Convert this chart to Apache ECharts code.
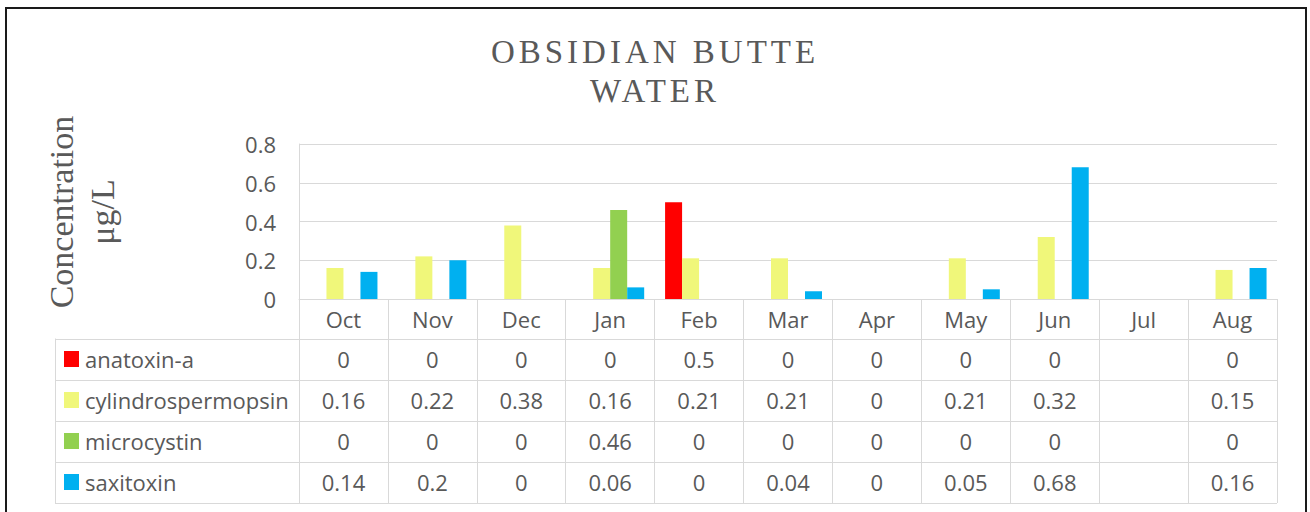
<!DOCTYPE html>
<html lang="en">
<head>
    <meta charset="UTF-8">
    <title>Obsidian Butte Water</title>
    <script src="https://cdn.jsdelivr.net/npm/echarts/dist/echarts.min.js"></script>
    <style>
        body { margin: 0; background: #fff; }
        #chart { width: 1310px; height: 512px; }
    </style>
</head>
<body>
<div id="chart"></div>
<script>
    // 数据：月份 + 四种毒素浓度（Jul 无数据）
    const months = ['Oct', 'Nov', 'Dec', 'Jan', 'Feb', 'Mar', 'Apr', 'May', 'Jun', 'Jul', 'Aug'];
    const anatoxin = [0, 0, 0, 0, 0.5, 0, 0, 0, 0, null, 0];
    const cylindrospermopsin = [0.16, 0.22, 0.38, 0.16, 0.21, 0.21, 0, 0.21, 0.32, null, 0.15];
    const microcystin = [0, 0, 0, 0.46, 0, 0, 0, 0, 0, null, 0];
    const saxitoxin = [0.14, 0.2, 0, 0.06, 0, 0.04, 0, 0.05, 0.68, null, 0.16];
    const seriesNames = ['anatoxin-a', 'cylindrospermopsin', 'microcystin', 'saxitoxin'];
    const seriesData = [anatoxin, cylindrospermopsin, microcystin, saxitoxin];
    const colors = ['#FF0000', '#F0F77A', '#92D050', '#00B0F0'];
    const yTicks = [0, 0.2, 0.4, 0.6, 0.8];

    const TEXT = '#595959';
    const LINE = '#D9D9D9';
    const SANS = '"Open Sans", "Noto Sans", sans-serif';
    const SERIF = '"Liberation Serif", "DejaVu Serif", serif';
    const FS = 22;

    // 绘图区与数据表的位置
    const GRID_L = 299, GRID_R = 1277, GRID_T = 144, GRID_B = 299;
    const TABLE_L = 55;
    const HEAD_BOTTOM = 338.5;
    const ROW_H = 41;
    const TABLE_BOTTOM = HEAD_BOTTOM + ROW_H * seriesNames.length;
    const catW = (GRID_R - GRID_L) / months.length;

    const chart = echarts.init(document.getElementById('chart'), null, { renderer: 'svg' });

    // 数据表：横线、图例色块、系列名称和数值
    const graphics = [];
    graphics.push({
        type: 'rect',
        shape: { x: 6, y: 8, width: 1300, height: 530 },
        style: { fill: 'none', stroke: '#1a1a1a', lineWidth: 2 }
    });
    graphics.push({
        type: 'text',
        x: 82, y: 212,
        rotation: Math.PI / 2,
        style: {
            text: 'Concentration\nμg/L',
            font: '34px ' + SERIF,
            fill: TEXT,
            align: 'center',
            verticalAlign: 'middle',
            lineHeight: 41
        }
    });
    for (let r = 0; r <= seriesNames.length; r++) {
        const y = Math.round(HEAD_BOTTOM + r * ROW_H) + 0.5;
        graphics.push({
            type: 'line',
            shape: { x1: TABLE_L, y1: y, x2: GRID_R, y2: y },
            style: { stroke: LINE, lineWidth: 1 }
        });
    }
    graphics.push({
        type: 'line',
        shape: { x1: TABLE_L + 0.5, y1: HEAD_BOTTOM, x2: TABLE_L + 0.5, y2: TABLE_BOTTOM + 1 },
        style: { stroke: LINE, lineWidth: 1 }
    });
    seriesNames.forEach((name, r) => {
        const cy = HEAD_BOTTOM + ROW_H * (r + 0.5);
        graphics.push({
            type: 'rect',
            shape: { x: 64, y: Math.round(cy - 8), width: 15, height: 16 },
            style: { fill: colors[r] }
        });
        graphics.push({
            type: 'text',
            x: 85, y: cy,
            style: { text: name, font: FS + 'px ' + SANS, fill: TEXT, verticalAlign: 'middle' }
        });
        seriesData[r].forEach((v, i) => {
            if (v === null) return;
            graphics.push({
                type: 'text',
                x: GRID_L + catW * (i + 0.5), y: cy,
                style: { text: String(v), font: FS + 'px ' + SANS, fill: TEXT, align: 'center', verticalAlign: 'middle' }
            });
        });
    });

    chart.setOption({
        animation: false,
        title: {
            text: 'OBSIDIAN BUTTE\nWATER',
            left: 'center',
            top: 27,
            textStyle: { fontFamily: SERIF, fontSize: 33, fontWeight: 'normal', color: TEXT, lineHeight: 39 }
        },
        grid: { left: GRID_L, top: GRID_T, width: GRID_R - GRID_L, height: GRID_B - GRID_T },
        xAxis: {
            type: 'category',
            data: months,
            axisLine: { show: true, lineStyle: { color: LINE } },
            axisTick: { show: true, length: Math.round(TABLE_BOTTOM - GRID_B), lineStyle: { color: LINE } },
            axisLabel: { color: TEXT, fontFamily: SANS, fontSize: FS, margin: 9 }
        },
        yAxis: {
            type: 'value',
            min: 0,
            max: yTicks[yTicks.length - 1],
            interval: 0.2,
            axisLine: { show: true, lineStyle: { color: LINE } },
            axisTick: { show: false },
            splitLine: { lineStyle: { color: LINE } },
            axisLabel: {
                color: TEXT, fontFamily: SANS, fontSize: FS, margin: 23,
                formatter: v => String(Math.round(v * 10) / 10)
            }
        },
        series: seriesNames.map((name, i) => ({
            name,
            type: 'bar',
            data: seriesData[i],
            barGap: '0%',
            barCategoryGap: '23.5%',
            itemStyle: { color: colors[i] }
        })),
        graphic: graphics
    });

    // 标题字距加宽（SVG 文本节点）
    document.querySelectorAll('#chart svg text').forEach(t => {
        if (/OBSIDIAN|WATER/.test(t.textContent)) t.style.letterSpacing = '4px';
    });
</script>
</body>
</html>
